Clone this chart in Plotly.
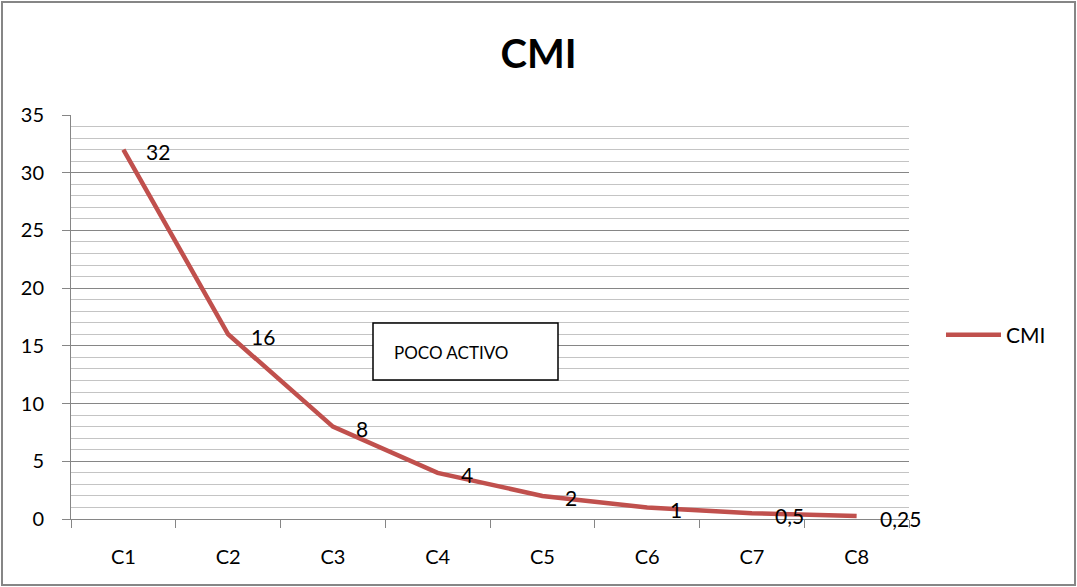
import plotly.graph_objects as go

categories = ["C1", "C2", "C3", "C4", "C5", "C6", "C7", "C8"]
cmi_values = [32, 16, 8, 4, 2, 1, 0.5, 0.25]
value_labels = ["32", "16", "8", "4", "2", "1", "0,5", "0,25"]
series_name = "CMI"
box_text = "POCO ACTIVO"

FONT = "Lato"
LINE_COLOR = "#C0504D"
AXIS_GRAY = "#868686"
MINOR_GRAY = "#C4C4C4"

W, H = 1077, 587
ML, MR, MT, MB = 71, 168, 115, 68
PW = W - ML - MR
PH = H - MT - MB

fig = go.Figure()
fig.add_trace(go.Scatter(
    x=categories, y=cmi_values, mode="lines", name=series_name,
    line=dict(color=LINE_COLOR, width=4.5),
))

annotations = []
for c, v, t in zip(categories, cmi_values, value_labels):
    annotations.append(dict(
        x=c, y=v, xref="x", yref="y", text=t, showarrow=False,
        xanchor="left", yanchor="middle", xshift=21, yshift=-2,
        font=dict(family=FONT, size=21, color="black"),
    ))

# text box
def px_x(p):
    return (p - ML) / PW

def px_y(p):
    return (H - MB - p) / PH

annotations.append(dict(
    x=px_x(392), y=px_y(352), xref="paper", yref="paper", text=box_text,
    showarrow=False, xanchor="left", yanchor="middle",
    font=dict(family=FONT, size=17, color="black"),
))

shapes = [
    dict(type="rect", xref="paper", yref="paper",
         x0=px_x(373), x1=px_x(558), y0=px_y(380), y1=px_y(323),
         line=dict(color="black", width=1.5), fillcolor="white", layer="above"),
    dict(type="rect", xref="paper", yref="paper",
         x0=px_x(2), x1=px_x(1075), y0=px_y(585), y1=px_y(2),
         line=dict(color=AXIS_GRAY, width=2), layer="below"),
]

fig.update_layout(
    width=W, height=H,
    margin=dict(l=ML, r=MR, t=MT, b=MB),
    paper_bgcolor="white", plot_bgcolor="white",
    font=dict(family=FONT, size=20, color="black"),
    title=dict(text="<b>CMI</b>", x=0.5, xanchor="center", y=1 - 54 / H,
               yanchor="middle", font=dict(family=FONT, size=40, color="black")),
    xaxis=dict(
        type="category", range=[-0.5, 7.5], showgrid=False,
        showline=True, linecolor=AXIS_GRAY, linewidth=1,
        ticks="outside", tickson="boundaries", ticklen=8, tickcolor=AXIS_GRAY,
        ticklabelstandoff=20, zeroline=False,
        tickfont=dict(family=FONT, size=20, color="black"),
    ),
    yaxis=dict(
        range=[0, 35], dtick=5, tick0=0, showgrid=True, gridcolor=AXIS_GRAY,
        gridwidth=1, showline=True, linecolor=AXIS_GRAY, linewidth=1,
        ticks="outside", ticklen=8, tickcolor=AXIS_GRAY, zeroline=False,
        ticklabelstandoff=14,
        tickfont=dict(family=FONT, size=20, color="black"),
        minor=dict(dtick=1, showgrid=True, gridcolor=MINOR_GRAY, gridwidth=1, ticks=""),
    ),
    showlegend=True,
    legend=dict(x=px_x(941), y=px_y(335), xanchor="left", yanchor="middle",
                font=dict(family=FONT, size=21, color="black"),
                bgcolor="rgba(0,0,0,0)", itemwidth=55),
    annotations=annotations,
    shapes=shapes,
)

fig.write_html("out.html", config={"displayModeBar": False},
               post_script="document.body.style.margin='0';")
